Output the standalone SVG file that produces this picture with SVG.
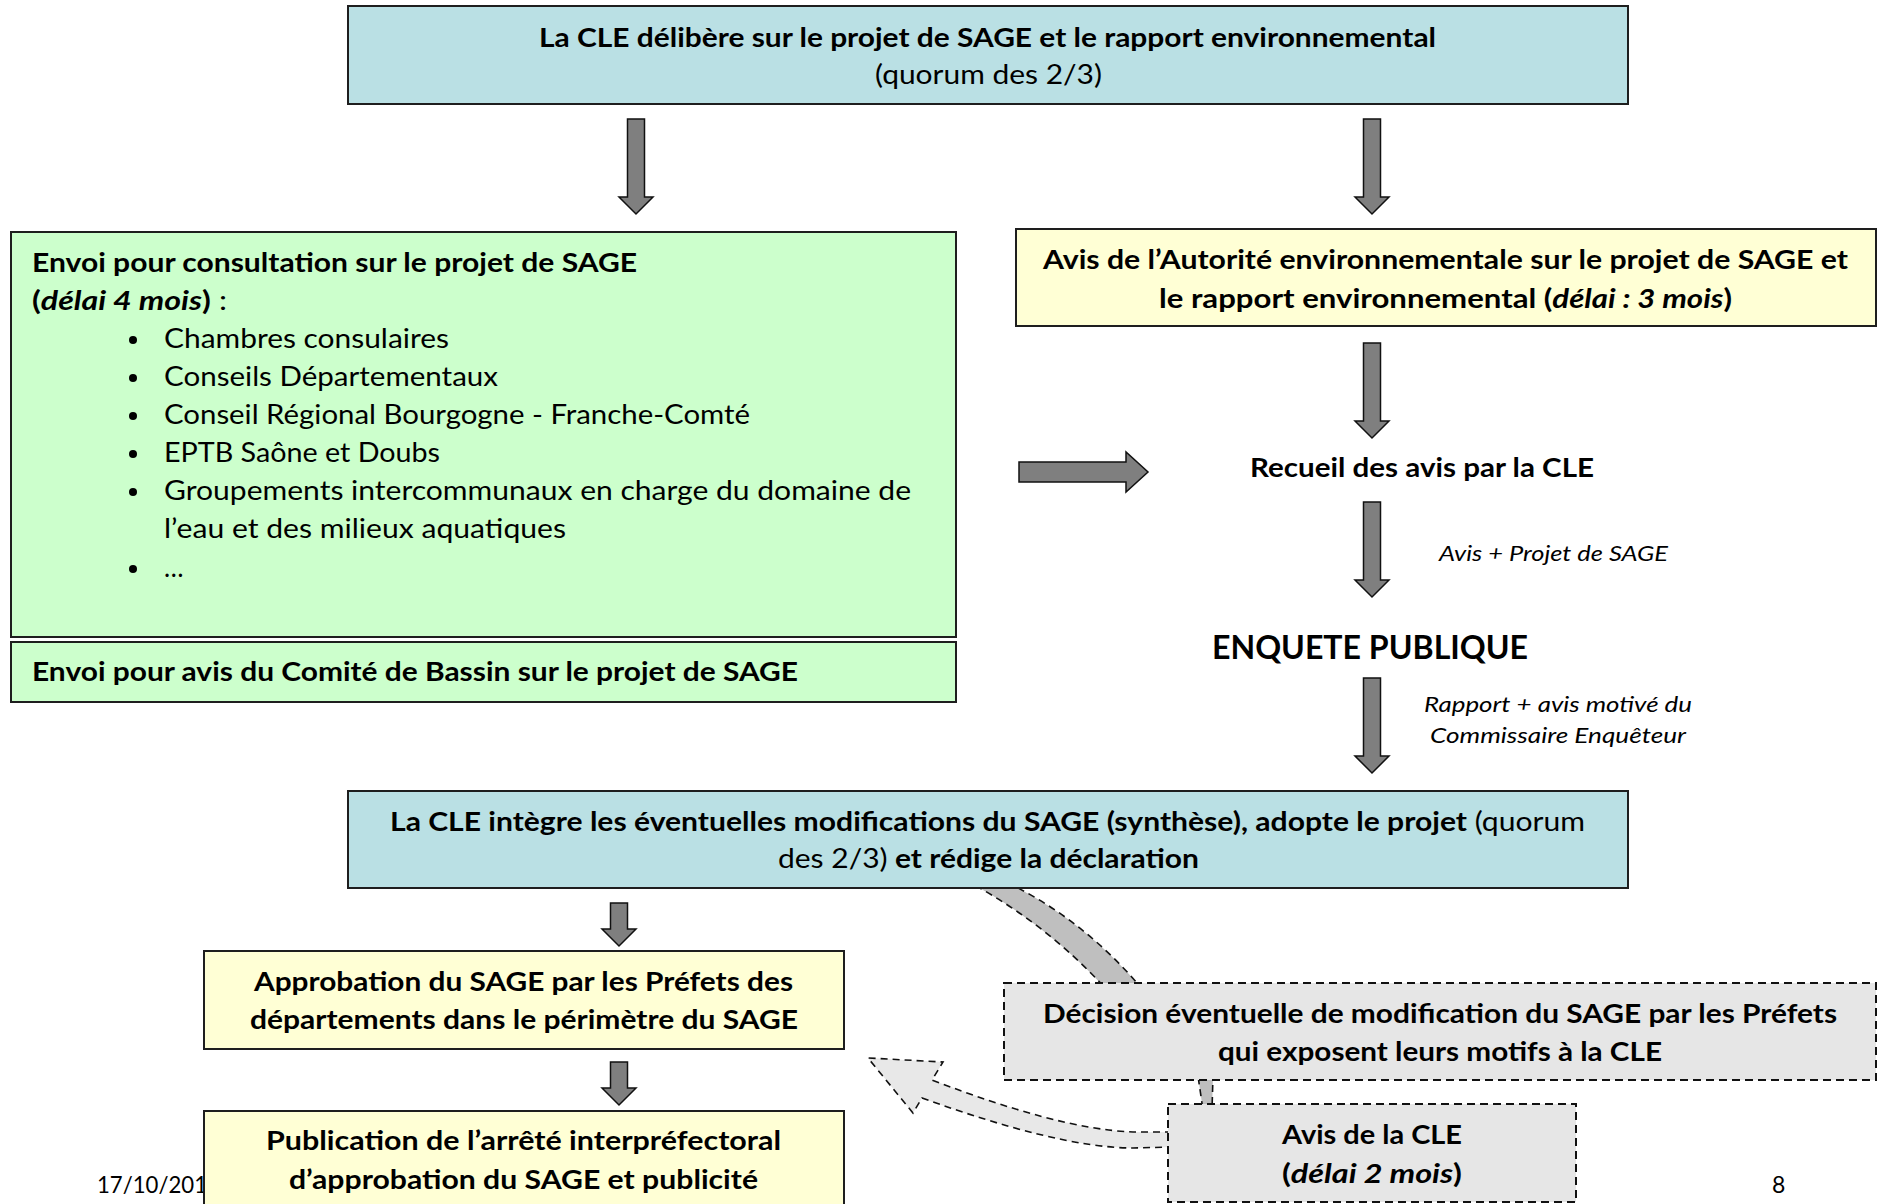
<svg xmlns="http://www.w3.org/2000/svg" width="1881" height="1204" viewBox="0 0 1881 1204">
<style>
text{font-family:Lato,"Liberation Sans",sans-serif;fill:#000}
.b{font-weight:bold;font-size:26px}
.r{font-weight:normal;font-size:26px}
.bi{font-weight:bold;font-style:italic}
.rr{font-weight:normal}
.it{font-style:italic;font-size:21px;font-weight:normal}
.box{stroke:#1e1e1e;stroke-width:2}
.cyan{fill:#bae0e4}
.green{fill:#ccffcc}
.yellow{fill:#ffffd5}
.dash{fill:#e6e6e6;stroke:#111;stroke-width:2;stroke-dasharray:8 5}
.arr{fill:#7f7f7f;stroke:#111;stroke-width:1.5;stroke-linejoin:miter}
.band{fill:#bfbfbf;stroke:#111;stroke-width:1.6;stroke-dasharray:7 5}
.band2{fill:#e8e8e8;stroke:#111;stroke-width:1.6;stroke-dasharray:7 5}
</style>

<g id="connectors">
  <polygon class="arr" points="627.5,119 644.5,119 644.5,197 653,197 636,214 619,197 627.5,197"/>
  <polygon class="arr" points="1363.5,119 1380.5,119 1380.5,197 1389,197 1372,214 1355,197 1363.5,197"/>
  <polygon class="arr" points="1363.5,343 1380.5,343 1380.5,421 1389,421 1372,438 1355,421 1363.5,421"/>
  <polygon class="arr" points="1363.5,502 1380.5,502 1380.5,580 1389,580 1372,597 1355,580 1363.5,580"/>
  <polygon class="arr" points="1363.5,678 1380.5,678 1380.5,756 1389,756 1372,773 1355,756 1363.5,756"/>
  <polygon class="arr" points="1019,462 1126,462 1126,452 1148,472 1126,492 1126,482 1019,482"/>
  <polygon class="arr" points="610.5,903 627.5,903 627.5,929 636,929 619,946 602,929 610.5,929"/>
  <polygon class="arr" points="610.5,1062 627.5,1062 627.5,1088 636,1088 619,1105 602,1088 610.5,1088"/>
  <path class="band" d="M 965 880 Q 1045 922 1107 990 L 1143 990 Q 1083 918 1002 880 Z"/>
  <path class="band" d="M 1198 1076 L 1213 1076 L 1212 1110 L 1203 1110 Z"/>
  <path class="band2" d="M 1172 1132 L 1133 1132 C 1080 1130 1010 1110 932 1080 L 943 1062 L 868 1058 L 913 1113 L 922 1098 C 1005 1128 1080 1148 1133 1148 L 1172 1147 Z"/>
</g>

<g id="n-cle-delibere">
  <rect class="box cyan" x="348" y="6" width="1280" height="98"/>
  <text class="b" x="539" y="47" textLength="897" lengthAdjust="spacingAndGlyphs">La CLE délibère sur le projet de SAGE et le rapport environnemental</text>
  <text class="r" x="875" y="84" textLength="227" lengthAdjust="spacingAndGlyphs">(quorum des 2/3)</text>
</g>

<g id="n-consultation">
  <rect class="box green" x="11" y="232" width="945" height="405"/>
  <text class="b" x="32" y="272" textLength="605" lengthAdjust="spacingAndGlyphs">Envoi pour consultation sur le projet de SAGE</text>
  <text class="b" x="32" y="310" textLength="195" lengthAdjust="spacingAndGlyphs">(<tspan class="bi">délai 4 mois</tspan>)<tspan class="rr"> :</tspan></text>
  <g fill="#000">
    <circle cx="133" cy="340" r="4"/>
    <circle cx="133" cy="378" r="4"/>
    <circle cx="133" cy="416" r="4"/>
    <circle cx="133" cy="454" r="4"/>
    <circle cx="133" cy="492" r="4"/>
    <circle cx="133" cy="569" r="4"/>
  </g>
  <text class="r" x="164" y="348" textLength="285" lengthAdjust="spacingAndGlyphs">Chambres consulaires</text>
  <text class="r" x="164" y="386" textLength="334" lengthAdjust="spacingAndGlyphs">Conseils Départementaux</text>
  <text class="r" x="164" y="424" textLength="586" lengthAdjust="spacingAndGlyphs">Conseil Régional Bourgogne - Franche-Comté</text>
  <text class="r" x="164" y="462" textLength="276" lengthAdjust="spacingAndGlyphs">EPTB Saône et Doubs</text>
  <text class="r" x="164" y="500" textLength="747" lengthAdjust="spacingAndGlyphs">Groupements intercommunaux en charge du domaine de</text>
  <text class="r" x="164" y="538" textLength="402" lengthAdjust="spacingAndGlyphs">l’eau et des milieux aquatiques</text>
  <text class="r" x="164" y="577">…</text>
</g>

<g id="n-comite-bassin">
  <rect class="box green" x="11" y="642" width="945" height="60"/>
  <text class="b" x="32" y="681" textLength="766" lengthAdjust="spacingAndGlyphs">Envoi pour avis du Comité de Bassin sur le projet de SAGE</text>
</g>

<g id="n-autorite-env">
  <rect class="box yellow" x="1016" y="229" width="860" height="97"/>
  <text class="b" x="1043" y="269" textLength="805" lengthAdjust="spacingAndGlyphs">Avis de l’Autorité environnementale sur le projet de SAGE et</text>
  <text class="b" x="1159" y="308" textLength="573" lengthAdjust="spacingAndGlyphs">le rapport environnemental (<tspan class="bi">délai : 3 mois</tspan>)</text>
</g>

<g id="n-recueil">
  <text class="b" x="1250" y="477" textLength="344" lengthAdjust="spacingAndGlyphs">Recueil des avis par la CLE</text>
</g>

<g id="l-avis-projet">
  <text class="it" x="1439" y="561" textLength="229" lengthAdjust="spacingAndGlyphs">Avis + Projet de SAGE</text>
</g>

<g id="n-enquete">
  <text class="b" x="1212" y="659" style="font-size:32px" textLength="316" lengthAdjust="spacingAndGlyphs">ENQUETE PUBLIQUE</text>
</g>

<g id="l-rapport">
  <text class="it" x="1424" y="712" textLength="268" lengthAdjust="spacingAndGlyphs">Rapport + avis motivé du</text>
  <text class="it" x="1430" y="743" textLength="256" lengthAdjust="spacingAndGlyphs">Commissaire Enquêteur</text>
</g>

<g id="n-cle-integre">
  <rect class="box cyan" x="348" y="791" width="1280" height="97"/>
  <text class="b" x="390" y="831" textLength="1195" lengthAdjust="spacingAndGlyphs">La CLE intègre les éventuelles modifications du SAGE (synthèse), adopte le projet<tspan class="rr"> (quorum</tspan></text>
  <text class="r" x="778" y="868" textLength="421" lengthAdjust="spacingAndGlyphs">des 2/3)<tspan style="font-weight:bold"> et rédige la déclaration</tspan></text>
</g>

<g id="n-decision">
  <rect class="dash" x="1004" y="983" width="872" height="97"/>
  <text class="b" x="1043" y="1023" textLength="794" lengthAdjust="spacingAndGlyphs">Décision éventuelle de modification du SAGE par les Préfets</text>
  <text class="b" x="1218" y="1061" textLength="444" lengthAdjust="spacingAndGlyphs">qui exposent leurs motifs à la CLE</text>
</g>

<g id="n-avis-cle">
  <rect class="dash" x="1168" y="1104" width="408" height="98"/>
  <text class="b" x="1282" y="1144" textLength="180" lengthAdjust="spacingAndGlyphs">Avis de la CLE</text>
  <text class="b" x="1282" y="1183" textLength="180" lengthAdjust="spacingAndGlyphs">(<tspan class="bi">délai 2 mois</tspan>)</text>
</g>

<g id="footer">
  <text x="97" y="1193" style="font-size:23px" textLength="110" lengthAdjust="spacingAndGlyphs">17/10/201</text>
  <text x="1772" y="1193" style="font-size:23px">8</text>
</g>

<g id="n-approbation">
  <rect class="box yellow" x="204" y="951" width="640" height="98"/>
  <text class="b" x="254" y="991" textLength="539" lengthAdjust="spacingAndGlyphs">Approbation du SAGE par les Préfets des</text>
  <text class="b" x="250" y="1029" textLength="548" lengthAdjust="spacingAndGlyphs">départements dans le périmètre du SAGE</text>
</g>

<g id="n-publication">
  <rect class="box yellow" x="204" y="1111" width="640" height="110"/>
  <text class="b" x="266" y="1150" textLength="515" lengthAdjust="spacingAndGlyphs">Publication de l’arrêté interpréfectoral</text>
  <text class="b" x="289" y="1189" textLength="469" lengthAdjust="spacingAndGlyphs">d’approbation du SAGE et publicité</text>
</g>
</svg>
